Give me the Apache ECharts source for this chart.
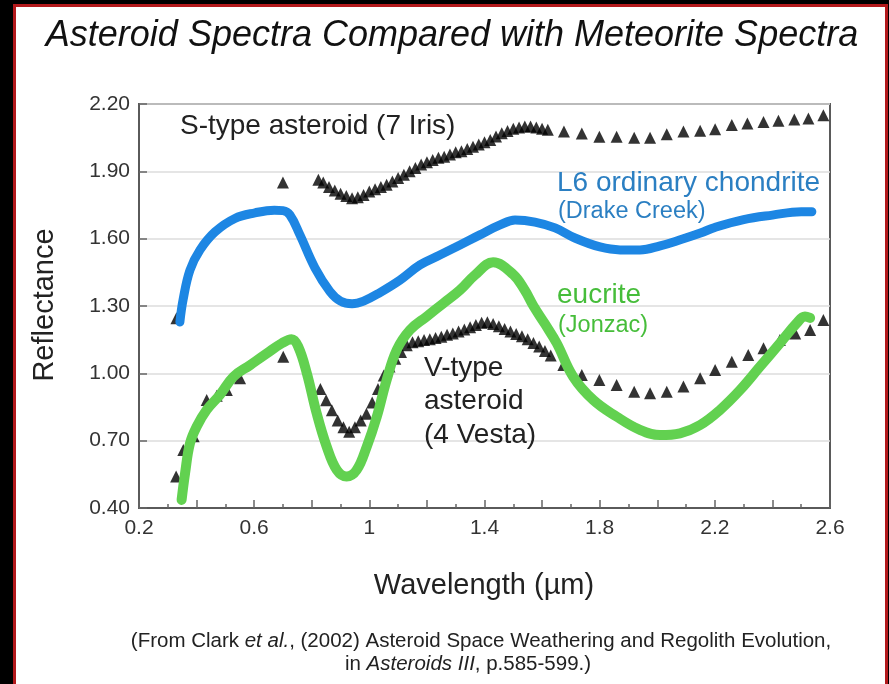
<!DOCTYPE html>
<html>
<head>
<meta charset="utf-8">
<script src="https://cdn.jsdelivr.net/npm/echarts@6/dist/echarts.min.js"></script>
<style>
  html, body { margin: 0; padding: 0; background: #000; }
  #chart { width: 889px; height: 684px; }
</style>
</head>
<body>
<div id="chart"></div>
<script>
// S-type asteroid (7 Iris), triangles
const sTypeWl = [0.33, 0.70, 0.823, 0.84, 0.86, 0.88, 0.90, 0.92, 0.94, 0.96, 0.98,
  1.00, 1.02, 1.04, 1.06, 1.08, 1.10, 1.12, 1.14, 1.16, 1.18, 1.20, 1.22, 1.24, 1.26, 1.28,
  1.30, 1.32, 1.34, 1.36, 1.38, 1.40, 1.42, 1.44, 1.46, 1.48, 1.50, 1.52, 1.54, 1.56, 1.58,
  1.60, 1.62, 1.676, 1.738, 1.799, 1.859, 1.920, 1.975, 2.033, 2.091, 2.149, 2.201, 2.259,
  2.313, 2.369, 2.421, 2.476, 2.525, 2.577];
const sTypeRefl = [1.245, 1.85, 1.862, 1.85, 1.83, 1.815, 1.80, 1.79, 1.78, 1.785, 1.795,
  1.81, 1.82, 1.83, 1.84, 1.855, 1.87, 1.885, 1.90, 1.915, 1.93, 1.94, 1.95, 1.96, 1.965, 1.975,
  1.985, 1.99, 2.00, 2.01, 2.02, 2.03, 2.04, 2.055, 2.07, 2.08, 2.09, 2.095, 2.10, 2.10, 2.095,
  2.09, 2.085, 2.077, 2.069, 2.054, 2.054, 2.05, 2.05, 2.065, 2.077, 2.081, 2.088, 2.106,
  2.113, 2.12, 2.125, 2.131, 2.135, 2.15];

// V-type asteroid (4 Vesta), triangles
const vTypeWl = [0.329, 0.354, 0.39, 0.435, 0.47, 0.505, 0.551, 0.701,
  0.83, 0.85, 0.87, 0.89, 0.91, 0.93, 0.95, 0.97, 0.99,
  1.01, 1.03, 1.05, 1.07, 1.09, 1.11, 1.13, 1.15, 1.17, 1.19, 1.21, 1.23, 1.25, 1.27, 1.29,
  1.31, 1.33, 1.35, 1.37, 1.39, 1.41, 1.43, 1.45, 1.47, 1.49, 1.51, 1.53, 1.55, 1.57, 1.59,
  1.61, 1.63, 1.674, 1.738, 1.799, 1.859, 1.920, 1.975, 2.033, 2.091, 2.149, 2.201, 2.259,
  2.316, 2.369, 2.426, 2.479, 2.531, 2.577];
const vTypeRefl = [0.54, 0.658, 0.72, 0.881, 0.90, 0.926, 0.978, 1.074,
  0.93, 0.88, 0.835, 0.79, 0.76, 0.74, 0.76, 0.79, 0.82,
  0.87, 0.93, 0.99, 1.03, 1.065, 1.095, 1.125, 1.138, 1.143, 1.148, 1.152, 1.157, 1.163, 1.172, 1.178,
  1.186, 1.195, 1.205, 1.215, 1.225, 1.228, 1.22, 1.21, 1.198, 1.186, 1.175, 1.165, 1.152, 1.135, 1.12,
  1.10, 1.08, 1.037, 0.993, 0.97, 0.948, 0.918, 0.911, 0.918, 0.941, 0.978, 1.015, 1.052,
  1.082, 1.112, 1.149, 1.178, 1.193, 1.238];

// L6 ordinary chondrite (Drake Creek)
const l6Wl = [0.342, 0.353, 0.377, 0.412, 0.464, 0.533, 0.603, 0.67, 0.70, 0.724, 0.759,
  0.811, 0.863, 0.90, 0.94, 0.98, 1.037, 1.107, 1.176, 1.245, 1.315, 1.384, 1.454, 1.506, 1.575,
  1.645, 1.714, 1.801, 1.871, 1.94, 2.01, 2.08, 2.15, 2.20, 2.30, 2.40, 2.50, 2.537];
const l6Refl = [1.229, 1.327, 1.46, 1.55, 1.63, 1.69, 1.715, 1.727, 1.725, 1.706, 1.617,
  1.47, 1.365, 1.322, 1.31, 1.322, 1.36, 1.416, 1.483, 1.527, 1.572, 1.617, 1.661, 1.683, 1.674,
  1.648, 1.603, 1.563, 1.55, 1.55, 1.568, 1.595, 1.625, 1.65, 1.685, 1.705, 1.72, 1.72];

// eucrite (Jonzac)
const eucWl = [0.348, 0.36, 0.377, 0.40, 0.435, 0.481, 0.528, 0.586, 0.644, 0.696, 0.73,
  0.753, 0.783, 0.817, 0.852, 0.887, 0.921, 0.956, 0.991, 1.026, 1.06, 1.095, 1.141, 1.199,
  1.257, 1.315, 1.367, 1.43, 1.50, 1.54, 1.57, 1.61, 1.651, 1.708, 1.778, 1.859, 1.94,
  2.01, 2.079, 2.149, 2.218, 2.288, 2.357, 2.426, 2.484, 2.513, 2.531];
const eucRefl = [0.436, 0.555, 0.688, 0.762, 0.837, 0.904, 0.985, 1.037, 1.089, 1.134, 1.152,
  1.119, 1.0, 0.822, 0.673, 0.569, 0.54, 0.569, 0.673, 0.807, 0.97, 1.104, 1.193, 1.253,
  1.312, 1.371, 1.438, 1.495, 1.44, 1.37, 1.30, 1.22, 1.134, 0.985, 0.881, 0.807, 0.748,
  0.725, 0.733, 0.77, 0.837, 0.926, 1.03, 1.134, 1.223, 1.253, 1.247];

const FONT = '"Liberation Sans", Arial, sans-serif';

function pairs(xs, ys) {
  return xs.map((x, i) => [x, ys[i]]);
}

const chart = echarts.init(document.getElementById('chart'));

const option = {
  backgroundColor: '#000',
  animation: false,
  textStyle: { fontFamily: FONT },
  grid: {
    left: 139, top: 104, right: 59, bottom: 176,
    show: true, borderColor: '#5a5a5a', borderWidth: 2, backgroundColor: 'transparent'
  },
  xAxis: {
    type: 'value', min: 0.2, max: 2.6, interval: 0.2,
    axisLine: { show: true, lineStyle: { color: '#5a5a5a', width: 2 } },
    axisTick: { show: true, inside: true, length: 8, lineStyle: { color: '#666', width: 1.5 } },
    minorTick: { show: true, splitNumber: 2, length: 4, lineStyle: { color: '#666', width: 1.5 } },
    splitLine: { show: false },
    axisLabel: {
      color: '#333', fontSize: 21, margin: 10, fontFamily: FONT,
      showMinLabel: true, showMaxLabel: true,
      formatter: function (v) {
        const k = Math.round((v - 0.2) / 0.2);
        return k % 2 === 0 ? String(+v.toFixed(1)) : '';
      }
    }
  },
  yAxis: {
    type: 'value', min: 0.4, max: 2.2, interval: 0.3,
    axisLine: { show: true, lineStyle: { color: '#5a5a5a', width: 2 } },
    axisTick: { show: true, inside: true, length: 8, lineStyle: { color: '#666', width: 1.5 } },
    splitLine: { show: true, lineStyle: { color: '#dcdcdc', width: 1.5 } },
    axisLabel: {
      color: '#333', fontSize: 21, margin: 9, fontFamily: FONT,
      formatter: v => v.toFixed(2)
    }
  },
  series: [
    {
      name: 'S-type', type: 'scatter', symbol: 'triangle', symbolSize: 12,
      itemStyle: { color: '#000' }, z: 2,
      data: pairs(sTypeWl, sTypeRefl)
    },
    {
      name: 'V-type', type: 'scatter', symbol: 'triangle', symbolSize: 12,
      itemStyle: { color: '#000' }, z: 2,
      data: pairs(vTypeWl, vTypeRefl)
    },
    {
      name: 'L6', type: 'line', smooth: 0.4, showSymbol: false, z: 3,
      lineStyle: { color: '#1d86e3', width: 9, cap: 'round', join: 'round' },
      data: pairs(l6Wl, l6Refl)
    },
    {
      name: 'eucrite', type: 'line', smooth: 0.4, showSymbol: false, z: 4,
      lineStyle: { color: '#62d150', width: 10, cap: 'round', join: 'round' },
      data: pairs(eucWl, eucRefl)
    }
  ],
  graphic: [
    {
      type: 'rect', z: -10, silent: true,
      shape: { x: 14.5, y: 5.5, width: 872, height: 700 },
      style: { fill: '#fff', stroke: '#b3191c', lineWidth: 3 }
    },
    {
      type: 'text', x: 452, y: 36, z: 100,
      style: { text: 'Asteroid Spectra Compared with Meteorite Spectra', fill: '#111',
        font: 'italic 36px ' + FONT, align: 'center', verticalAlign: 'middle' }
    },
    {
      type: 'text', x: 45, y: 305, rotation: Math.PI / 2, z: 100,
      style: { text: 'Reflectance', fill: '#222', font: '29px ' + FONT, align: 'center', verticalAlign: 'middle' }
    },
    {
      type: 'text', x: 484, y: 586, z: 100,
      style: { text: 'Wavelength (µm)', fill: '#222', font: '29px ' + FONT, align: 'center', verticalAlign: 'middle' }
    },
    {
      type: 'text', x: 180, y: 126, z: 100,
      style: { text: 'S-type asteroid (7 Iris)', fill: '#222', font: '28px ' + FONT, verticalAlign: 'middle' }
    },
    {
      type: 'text', x: 557, y: 183, z: 100,
      style: { text: 'L6 ordinary chondrite', fill: '#2b7fc2', font: '28px ' + FONT, verticalAlign: 'middle' }
    },
    {
      type: 'text', x: 558, y: 212, z: 100,
      style: { text: '(Drake Creek)', fill: '#2b7fc2', font: '23.5px ' + FONT, verticalAlign: 'middle' }
    },
    {
      type: 'text', x: 557, y: 295, z: 100,
      style: { text: 'eucrite', fill: '#46bd3a', font: '28px ' + FONT, verticalAlign: 'middle' }
    },
    {
      type: 'text', x: 558, y: 326, z: 100,
      style: { text: '(Jonzac)', fill: '#46bd3a', font: '23.5px ' + FONT, verticalAlign: 'middle' }
    },
    {
      type: 'text', x: 424, y: 368, z: 100,
      style: { text: 'V-type', fill: '#222', font: '28px ' + FONT, verticalAlign: 'middle' }
    },
    {
      type: 'text', x: 424, y: 401, z: 100,
      style: { text: 'asteroid', fill: '#222', font: '28px ' + FONT, verticalAlign: 'middle' }
    },
    {
      type: 'text', x: 424, y: 435, z: 100,
      style: { text: '(4 Vesta)', fill: '#222', font: '28px ' + FONT, verticalAlign: 'middle' }
    },
    {
      type: 'text', x: 481, y: 641, z: 100,
      style: {
        text: '{n|(From Clark }{i|et al.}{n|, (2002) Asteroid Space Weathering and Regolith Evolution,}',
        align: 'center', verticalAlign: 'middle', fill: '#222',
        rich: {
          n: { font: '20.5px ' + FONT, fill: '#222' },
          i: { font: 'italic 20.5px ' + FONT, fill: '#222' }
        }
      }
    },
    {
      type: 'text', x: 468, y: 664, z: 100,
      style: {
        text: '{n|in }{i|Asteroids III}{n|, p.585-599.)}',
        align: 'center', verticalAlign: 'middle', fill: '#222',
        rich: {
          n: { font: '20.5px ' + FONT, fill: '#222' },
          i: { font: 'italic 20.5px ' + FONT, fill: '#222' }
        }
      }
    }
  ]
};

chart.setOption(option);
</script>
</body>
</html>
